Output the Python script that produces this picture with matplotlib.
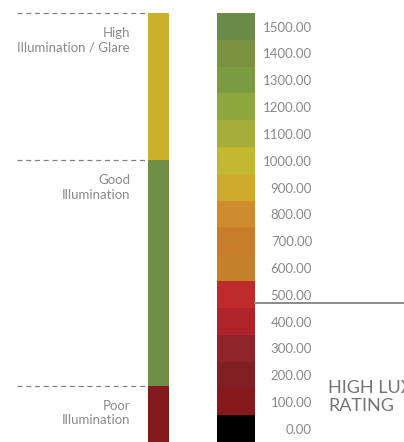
import matplotlib.pyplot as plt

# lux scale (right bar)
lux = [0, 100, 200, 300, 400, 500, 600, 700, 800, 900, 1000, 1100, 1200, 1300, 1400, 1500]
lux_colors = ['#000000', '#87191d', '#7f1f22', '#8e2329', '#b1232b', '#bf2a2b',
              '#c67f2a', '#c87d2a', '#cf8c2c', '#cfab2b', '#c3b930', '#a6ae3a',
              '#8ea73f', '#7a9b3f', '#7a9140', '#6a8a47']
lux_labels = [f"{v:.2f}" for v in lux]

# illumination zones (left bar)
zone_names = ['Poor\nIllumination', 'Good\nIllumination', 'High\nIllumination / Glare']
zone_start = [-50, 160, 1000]
zone_end = [160, 1000, 1550]
zone_colors = ['#821a1e', '#6e8f45', '#cbb02a']

high_lux_line = 470

fig = plt.figure(figsize=(4.04, 4.42), dpi=100)
ax = fig.add_axes([0, 0, 1, 1])
ax.set_xlim(0, 404)
ax.set_ylim(-50, 1598)
ax.axis('off')

plt.rcParams['font.family'] = ['Lato', 'DejaVu Sans']

# right bar
ax.bar(236, 100, bottom=[v - 50 for v in lux], width=38, color=lux_colors, align='center')
for v, lab in zip(lux, lux_labels):
    ax.text(312, v - 5, lab, ha='right', va='center', fontsize=9.5, color='#8a8a8a')

# left bar
heights = [e - s for s, e in zip(zone_start, zone_end)]
ax.bar(158.5, heights, bottom=zone_start, width=21, color=zone_colors)
for s, e, name in zip(zone_start, zone_end, zone_names):
    ax.plot([17, 148], [e, e], linestyle=(0, (4, 3)), color='#808080', lw=0.9)
    ax.text(130, e - 52, name, ha='right', va='top', fontsize=9.5,
            color='#8a8a8a', linespacing=1.25)

# threshold line and rating label
ax.plot([255, 404], [high_lux_line, high_lux_line], color='#8a8a8a', lw=1.4)
ax.text(328, 118, 'HIGH LUX\nRATING', ha='left', va='center', fontsize=13,
        color='#757575', linespacing=1.2)

fig.savefig('out.png', dpi=100)
